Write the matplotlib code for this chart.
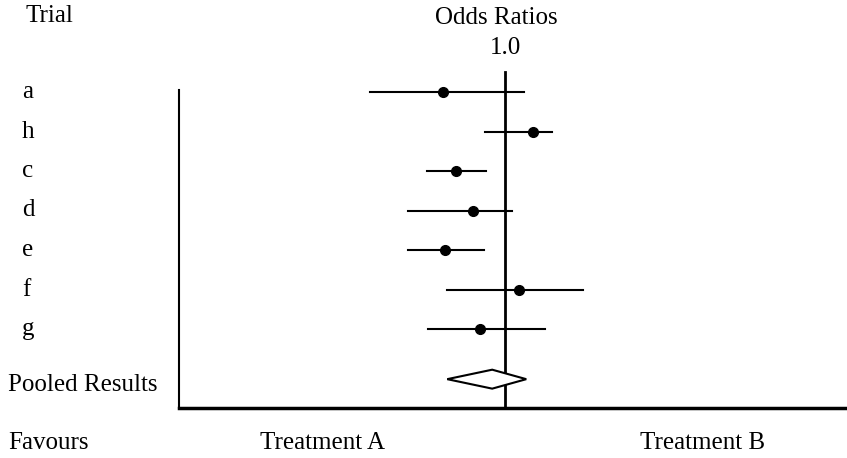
import matplotlib.pyplot as plt
from matplotlib.patches import Polygon
from matplotlib.transforms import blended_transform_factory

# data: odds ratios with 95% CI
trials = ['a', 'h', 'c', 'd', 'e', 'f', 'g']
odds = [0.645, 1.22, 0.707, 0.797, 0.655, 1.10, 0.838]
ci_low = [0.385, 0.868, 0.576, 0.504, 0.504, 0.664, 0.580]
ci_high = [1.14, 1.39, 0.874, 1.05, 0.862, 1.73, 1.32]

pooled_label = 'Pooled Results'
pooled_or = 0.912
pooled_low = 0.664
pooled_high = 1.16

plt.rcParams['font.family'] = ['Liberation Serif', 'DejaVu Serif']

fig = plt.figure(figsize=(8.47, 4.58), dpi=100)
W, H = 847, 458
ax = fig.add_axes([179 / W, 1 - 408 / H, (845 - 179) / W, (408 - 60.4) / H])

ax.set_xscale('log')
ax.set_xlim(0.1, 11)
ax.set_ylim(0, 8.8)

# row positions, top to bottom
rows = [8 - i for i in range(len(trials))]
pooled_y = 0.73

# reference line at OR = 1
ax.plot([1.0, 1.0], [0, 8.5], color='black', lw=2, zorder=2)

# confidence intervals and point estimates
for y, o, lo, hi in zip(rows, odds, ci_low, ci_high):
    ax.plot([lo, hi], [y, y], color='black', lw=1.5, zorder=3)
    ax.plot(o, y, 'o', color='black', markersize=7, zorder=4)

# pooled diamond
h = 0.24
diamond = Polygon([(pooled_low, pooled_y), (pooled_or, pooled_y + h),
                   (pooled_high, pooled_y), (pooled_or, pooled_y - h)],
                  closed=True, facecolor='white', edgecolor='black', lw=1.5, zorder=5)
ax.add_patch(diamond)

# axes styling
ax.spines['top'].set_visible(False)
ax.spines['right'].set_visible(False)
ax.spines['left'].set_bounds(0, 8.05)
ax.spines['left'].set_linewidth(1.5)
ax.spines['bottom'].set_linewidth(2.5)
ax.set_xticks([])
ax.set_yticks([])
ax.minorticks_off()

# row labels
fs = 18
tr = blended_transform_factory(fig.transFigure, ax.transData)
for y, name in zip(rows, trials):
    ax.text(22 / W, y, name, transform=tr, ha='left', va='center', fontsize=fs)
ax.text(8 / W, pooled_y - 0.15, pooled_label, transform=tr, ha='left', va='center', fontsize=fs)

# header and footer text
fig.text(25 / W, 1 - 16 / H, 'Trial', ha='left', va='center', fontsize=fs)
fig.text(496 / W, 1 - 18 / H, 'Odds Ratios', ha='center', va='center', fontsize=fs)
tx = blended_transform_factory(ax.transData, fig.transFigure)
fig.text(1.0, 1 - 48 / H, '1.0', transform=tx, ha='center', va='center', fontsize=fs)
fig.text(8 / W, 1 - 443 / H, 'Favours', ha='left', va='center', fontsize=fs)
fig.text(322 / W, 1 - 443 / H, 'Treatment A', ha='center', va='center', fontsize=fs)
fig.text(703 / W, 1 - 443 / H, 'Treatment B', ha='center', va='center', fontsize=fs)

fig.savefig('out.png', dpi=100)
